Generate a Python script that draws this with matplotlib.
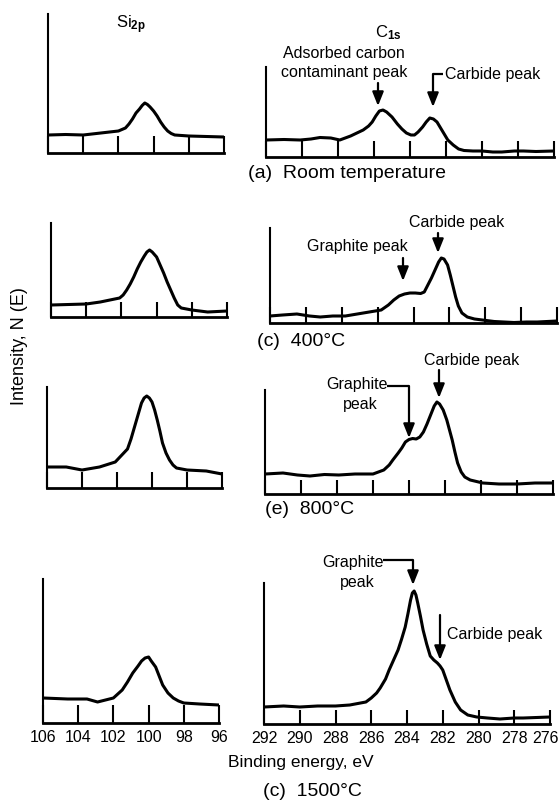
import matplotlib
matplotlib.use("Agg")
import matplotlib.pyplot as plt

plt.rcParams['font.family'] = ['Liberation Sans', 'DejaVu Sans']
plt.rcParams['mathtext.fontset'] = 'custom'
plt.rcParams['mathtext.rm'] = 'Liberation Sans'
plt.rcParams['mathtext.it'] = 'Liberation Sans:italic'
plt.rcParams['mathtext.bf'] = 'Liberation Sans:bold'

W, H = 559, 807

# ---------------- data ----------------
si_ticks = [106, 104, 102, 100, 98, 96]
c_ticks = [292, 290, 288, 286, 284, 282, 280, 278, 276]

# Si 2p, room temperature
si_rt_e = [106.0, 105.0, 104.0, 103.0, 102.0, 101.6, 101.4, 101.2, 101.0, 100.8,
           100.65, 100.5, 100.35, 100.2, 100.0, 99.8, 99.6, 99.4, 99.2, 99.0,
           98.8, 98.0, 97.0, 96.0]
si_rt_i = [18, 18.5, 18, 20, 22, 25, 29, 34, 40, 44, 47.5, 50, 48.5, 46, 42, 37, 31,
           26, 22, 19.5, 18, 17, 16.5, 16]

# C 1s, room temperature
c_rt_e = [292.0, 291.0, 290.1, 289.5, 289.0, 288.4, 287.9, 287.3, 286.6, 286.3,
          286.1, 285.9, 285.7, 285.5, 285.3, 285.0, 284.7, 284.45, 284.2, 283.95,
          283.75, 283.55, 283.3, 283.1, 282.9, 282.7, 282.5, 282.3, 282.1, 281.9,
          281.6, 281.3, 281.0, 280.5, 280.0, 279.4, 278.9, 278.2, 277.7, 277.0, 276.0]
c_rt_i = [17, 17.5, 17, 18, 19.5, 19, 17, 21, 27, 31, 35, 41, 46, 47, 45, 40, 33, 28,
          24, 22, 22, 25, 30, 35, 39, 38, 35, 29, 23, 17, 12, 8, 6.5, 6, 6, 5, 5, 6, 6,
          5.5, 6]

# Si 2p, 400 C
si_400_e = [106.0, 105.0, 104.0, 103.2, 102.1, 101.9, 101.7, 101.5, 101.3, 101.1,
            100.9, 100.7, 100.55, 100.4, 100.25, 100.1, 100.0, 99.8, 99.6, 99.4,
            99.2, 99.0, 98.8, 98.6, 98.3, 98.0, 97.1, 96.0]
si_400_i = [12, 12.5, 13, 15, 19, 22, 27, 33, 40, 48, 55, 61, 65, 67, 65, 62, 60, 52,
            44, 35, 27, 19, 12, 9, 8, 7, 5, 6]

# C 1s, 400 C
c_400_e = [292.0, 291.3, 290.5, 289.8, 289.2, 288.5, 287.8, 286.8, 285.8, 285.4,
           285.1, 284.8, 284.5, 284.2, 283.9, 283.6, 283.4, 283.2, 283.0, 282.8,
           282.6, 282.45, 282.3, 282.1, 281.95, 281.8, 281.65, 281.5, 281.3, 281.0,
           280.6, 279.5, 278.4, 277.7, 277.1, 276.0]
c_400_i = [7, 8, 9, 7, 6, 7, 7, 10, 13, 18, 23, 27, 29, 30, 30, 29.5, 31, 38, 45, 53,
           61, 65, 64, 58, 48, 37, 26, 17, 10, 6, 4, 1.5, 0.5, 1, 1, 2]

# Si 2p, 800 C
si_800_e = [106.0, 104.9, 104.0, 103.0, 102.1, 101.4, 101.2, 101.0, 100.8, 100.6,
            100.45, 100.3, 100.15, 100.0, 99.85, 99.7, 99.55, 99.4, 99.2, 99.0,
            98.8, 98.6, 98.0, 96.9, 96.0]
si_800_i = [21, 21, 18, 21, 26, 39, 49, 61, 73, 85, 90, 92, 90, 86, 78, 68, 57, 45, 35,
            28, 23, 20, 18, 17, 14]

# C 1s, 800 C
c_800_e = [292.0, 291.0, 290.2, 289.5, 288.7, 287.9, 287.0, 286.0, 285.4, 285.1,
           284.9, 284.6, 284.4, 284.2, 284.0, 283.8, 283.6, 283.4, 283.2, 283.0,
           282.8, 282.6, 282.45, 282.3, 282.1, 281.9, 281.75, 281.6, 281.45, 281.3,
           281.1, 280.9, 280.6, 279.9, 279.0, 278.0, 277.0, 276.0]
c_800_i = [20, 21, 19, 18, 19.5, 19, 20, 20, 24, 29, 34, 41, 46, 52, 54.5, 55.5, 55,
           57, 62, 70, 79, 88, 92, 90, 84, 74, 64, 54, 42, 31, 22, 17, 14, 11, 10, 10,
           11, 11]

# Si 2p, 1500 C
si_1500_e = [106.0, 104.6, 103.5, 102.9, 102.0, 101.5, 101.2, 100.9, 100.6, 100.4,
             100.2, 100.0, 99.85, 99.6, 99.4, 99.2, 98.9, 98.6, 98.3, 98.0, 97.1, 96.0]
si_1500_i = [25, 24, 24, 21, 25, 33, 41, 50, 57, 62, 65, 66, 62, 56, 47, 38, 30, 25,
             22, 20, 19, 18]

# C 1s, 1500 C
c_1500_e = [292.0, 290.9, 290.0, 289.0, 288.0, 287.2, 286.3, 286.0, 285.7, 285.5,
            285.2, 285.0, 284.75, 284.5, 284.3, 284.1, 283.95, 283.8, 283.7, 283.6,
            283.5, 283.4, 283.25, 283.1, 282.9, 282.7, 282.5, 282.3, 282.15, 282.0,
            281.8, 281.6, 281.3, 281.0, 280.6, 280.1, 279.5, 278.8, 278.0, 277.5, 276.0]
c_1500_i = [17, 18, 17, 18, 18, 19, 22, 26, 31, 36, 45, 54, 64, 74, 85, 97, 110, 124,
            131, 133, 129, 121, 108, 94, 80, 68, 64, 61, 58, 54, 44, 34, 22, 14, 9, 7,
            6, 5, 6, 6, 7]

# ---------------- figure ----------------
fig = plt.figure(figsize=(W / 100, H / 100), dpi=100)


def add_ax(x0, x1, ytop, ybot):
    return fig.add_axes([x0 / W, 1 - ybot / H, (x1 - x0) / W, (ybot - ytop) / H])


panels = [
    (si_rt_e, si_rt_i, si_ticks, (48, 224, 14, 153), 17, False),
    (c_rt_e, c_rt_i, c_ticks, (266, 554, 67, 157), 16, False),
    (si_400_e, si_400_i, si_ticks, (51, 227, 223, 317), 15, False),
    (c_400_e, c_400_i, c_ticks, (270, 557, 228, 323), 16, False),
    (si_800_e, si_800_i, si_ticks, (47, 222, 387, 488), 16, False),
    (c_800_e, c_800_i, c_ticks, (265, 553, 390, 494), 14, False),
    (si_1500_e, si_1500_i, si_ticks, (43, 219, 579, 723), 18, True),
    (c_1500_e, c_1500_i, c_ticks, (264, 550, 583, 724), 14, True),
]

for e, inten, ticks, box, tl, labels in panels:
    ax = add_ax(*box)
    ax.plot(e, inten, color='black', lw=2.2, solid_joinstyle='round',
            solid_capstyle='round')
    ax.set_xlim(ticks[0], ticks[-1])
    ax.set_ylim(0, box[3] - box[2])
    ax.set_xticks(ticks)
    ax.set_yticks([])
    for s in ['top', 'right']:
        ax.spines[s].set_visible(False)
    ax.spines['left'].set_linewidth(1.5)
    ax.spines['bottom'].set_linewidth(2.0)
    ax.tick_params(axis='x', direction='in', length=tl * 0.72, width=1.5, pad=5,
                   labelsize=11.5, labelbottom=labels)
    ax.patch.set_alpha(0)
    if labels:
        # keep the outermost right label inside the picture
        last = ax.get_xticklabels()[-1]
        if ticks[-1] == 276:
            last.set_horizontalalignment('right')
            last.set_x(ticks[-1])
            from matplotlib.transforms import ScaledTranslation
            last.set_transform(last.get_transform() +
                               ScaledTranslation(9 / 100, 0, fig.dpi_scale_trans))

# overlay in pixel coordinates for annotations
ov = fig.add_axes([0, 0, 1, 1])
ov.set_xlim(0, W)
ov.set_ylim(H, 0)
ov.axis('off')
ov.patch.set_alpha(0)

AFS = 11.5


def arrow(x, y0, y1):
    ov.annotate('', xy=(x, y1), xytext=(x, y0),
                arrowprops=dict(arrowstyle='-|>,head_length=0.7,head_width=0.28',
                                lw=1.6, color='black', mutation_scale=12,
                                shrinkA=0, shrinkB=0))


def hline(x0, x1, y):
    ov.plot([x0, x1], [y, y], color='black', lw=1.6, solid_capstyle='butt')


# titles
ov.text(131, 25, r'Si$_{\mathbf{2p}}$', fontsize=12, ha='center', va='center')
ov.text(388, 33, r'C$_{\mathbf{1s}}$', fontsize=12, ha='center', va='center')

# (a) room temperature annotations
ov.text(344, 53, 'Adsorbed carbon', fontsize=AFS, ha='center', va='center')
ov.text(344, 73, 'contaminant peak', fontsize=AFS, ha='center', va='center')
arrow(378, 83, 106)
hline(433, 443, 74)
arrow(433, 74, 107)
ov.text(445, 74, 'Carbide peak', fontsize=AFS, ha='left', va='center')
ov.text(248, 174, '(a)  Room temperature', fontsize=14, ha='left', va='center')

# (c) 400 C
ov.text(357, 247, 'Graphite peak', fontsize=AFS, ha='center', va='center')
arrow(403, 258, 281)
ov.text(457, 223, 'Carbide peak', fontsize=AFS, ha='center', va='center')
arrow(438, 233, 253)
ov.text(257, 342, '(c)  400°C', fontsize=14, ha='left', va='center')

# (e) 800 C
ov.text(357, 385, 'Graphite', fontsize=AFS, ha='center', va='center')
ov.text(360, 405, 'peak', fontsize=AFS, ha='center', va='center')
hline(387, 409, 386)
arrow(409, 386, 438)
ov.text(472, 360, 'Carbide peak', fontsize=AFS, ha='center', va='center')
arrow(439, 370, 398)
ov.text(265, 510, '(e)  800°C', fontsize=14, ha='left', va='center')

# (c) 1500 C
ov.text(353, 562, 'Graphite', fontsize=AFS, ha='center', va='center')
ov.text(357, 582, 'peak', fontsize=AFS, ha='center', va='center')
hline(383, 413, 560)
arrow(413, 560, 585)
ov.text(447, 635, 'Carbide peak', fontsize=AFS, ha='left', va='center')
arrow(440, 615, 660)

ov.text(301, 762, 'Binding energy, eV', fontsize=12.5, ha='center', va='center')
ov.text(312, 792, '(c)  1500°C', fontsize=14, ha='center', va='center')

ov.text(20, 346, 'Intensity, N (E)', fontsize=13, rotation=90,
        ha='center', va='center')

fig.savefig('out.png', dpi=100)
